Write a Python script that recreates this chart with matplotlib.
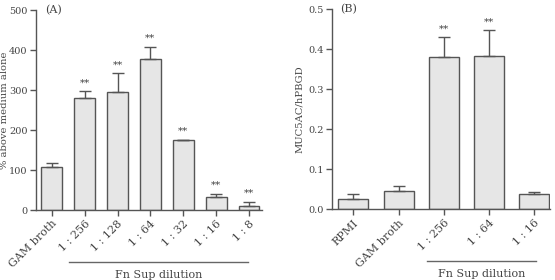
import matplotlib
matplotlib.use("Agg")
import matplotlib.pyplot as plt
from matplotlib.lines import Line2D
import matplotlib.transforms as mtransforms

plt.rcParams['font.family'] = ['DejaVu Serif']

# Panel A data
cats_a = ["GAM broth", "1 : 256", "1 : 128", "1 : 64", "1 : 32", "1 : 16", "1 : 8"]
vals_a = [108, 280, 296, 378, 174, 32, 10]
errs_a = [9, 17, 46, 30, 2, 8, 11]
sig_a = ["", "**", "**", "**", "**", "**", "**"]

# Panel B data
cats_b = ["RPMI", "GAM broth", "1 : 256", "1 : 64", "1 : 16"]
vals_b = [0.025, 0.046, 0.381, 0.383, 0.038]
errs_b = [0.013, 0.013, 0.049, 0.064, 0.004]
sig_b = ["", "", "**", "**", ""]

fig = plt.figure(figsize=(5.55, 2.8), dpi=100)
axA = fig.add_axes([0.0649, 0.25, 0.4071, 0.714])
axB = fig.add_axes([0.5977, 0.2525, 0.3933, 0.7145])

face = "#e6e6e6"
edge = "#555555"
tcol = "#444444"
fs = 8

def draw(ax, cats, vals, errs, sig, width, ylim, yticks, yfmt, ylabel, label, lx, xlim, line_x, ast_off):
    x = list(range(len(cats)))
    ax.bar(x, vals, width=width, color=face, edgecolor=edge, linewidth=1.0, zorder=2)
    ax.errorbar(x, vals, yerr=[[0]*len(errs), errs], fmt='none', ecolor=edge,
                elinewidth=1.0, capsize=4, capthick=1.0, zorder=3)
    for xi, v, e, s in zip(x, vals, errs, sig):
        if s:
            ax.text(xi, v + e + ast_off, s, ha='center', va='bottom', fontsize=7.5, color=tcol)
    ax.set_xlim(*xlim)
    ax.set_ylim(*ylim)
    ax.set_yticks(yticks)
    ax.set_yticklabels([yfmt.format(t) for t in yticks], fontsize=7, color=tcol)
    ax.set_xticks(x)
    ax.set_xticklabels(cats, rotation=45, ha='right', rotation_mode='anchor', fontsize=fs, color=tcol)
    for sp in ['top', 'right']:
        ax.spines[sp].set_visible(False)
    for sp in ['left', 'bottom']:
        ax.spines[sp].set_color(edge)
        ax.spines[sp].set_linewidth(1.0)
    ax.tick_params(direction='out', length=4, color=edge, width=1.0, pad=2)
    ax.set_ylabel(ylabel, fontsize=7.2, color=tcol, labelpad=3)
    ax.text(lx, 1.0, label, transform=ax.transAxes,
            fontsize=fs, color=tcol, ha='left', va='center')
    trans = mtransforms.blended_transform_factory(ax.transData, ax.transAxes)
    ax.add_line(Line2D(line_x, [-0.26, -0.26], transform=trans, color="#666666",
                       linewidth=1.0, clip_on=False))
    ax.text((line_x[0] + line_x[1]) / 2, -0.30, "Fn Sup dilution", transform=trans,
            ha='center', va='top', fontsize=fs, color=tcol, clip_on=False)

draw(axA, cats_a, vals_a, errs_a, sig_a, 0.63, (0, 500), [0, 100, 200, 300, 400, 500], "{:d}",
     "% above medium alone", "(A)", 0.04, (-0.48, 6.39), [0.53, 5.97], 10)
draw(axB, cats_b, vals_b, errs_b, sig_b, 0.667, (0, 0.5), [0.0, 0.1, 0.2, 0.3, 0.4, 0.5], "{:.1f}",
     "MUC5AC/hPBGD", "(B)", 0.04, (-0.48, 4.35), [1.63, 4.04], 0.01)
axA.yaxis.set_label_coords(-0.118, 0.5)

fig.savefig("out.png", dpi=100)
